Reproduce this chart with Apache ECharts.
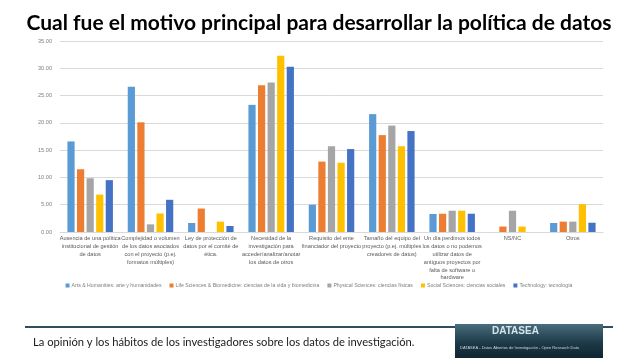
<!DOCTYPE html>
<html><head><meta charset="utf-8">
<script src="https://cdn.jsdelivr.net/npm/echarts@6/dist/echarts.min.js"></script>
<style>html,body{margin:0;padding:0;background:#fff}#c{width:638px;height:359px}</style>
</head><body><div id="c"></div>
<script>
const categories = [
  "Ausencia de una política\ninstitucional de gestión\nde datos",
  "Complejidad o volumen\nde los datos asociados\ncon el proyecto (p.ej.\nformatos múltiples)",
  "Ley de protección de\ndatos por el comité de\nética.",
  "Necesidad de la\ninvestigación para\nacceder/analizar/anotar\nlos datos de otros",
  "Requisito del ente\nfinanciador del proyecto",
  "Tamaño del equipo del\nproyecto (p.ej. múltiples\ncreadores de datos)",
  "Un día perdimos todos\nlos datos o no podemos\nutilizar datos de\nantiguos proyectos por\nfalta de software o\nhardware",
  "NS/NC",
  "Otros"
];
const seriesNames = [
  "Arts & Humanities: arte y humanidades",
  "Life Sciences & Biomedicine: ciencias de la vida y biomedicina",
  "Physical Sciences: ciencias físicas",
  "Social Sciences: ciencias sociales",
  "Technology: tecnología"
];
const arts    = [16.6, 26.6, 1.65, 23.3, 5.0, 21.6, 3.3, 0, 1.65];
const life    = [11.5, 20.1, 4.3, 26.9, 12.9, 17.75, 3.35, 1.0, 1.9];
const phys    = [9.85, 1.4, 0, 27.4, 15.7, 19.5, 3.9, 3.9, 1.9];
const social  = [6.85, 3.4, 1.9, 32.3, 12.7, 15.7, 3.9, 1.0, 5.1];
const tech    = [9.5, 5.9, 1.1, 30.3, 15.2, 18.5, 3.35, 0, 1.7];
const yTicks = {min: 0, max: 35, interval: 5};
const colors = ["#5B9BD5", "#ED7D31", "#A5A5A5", "#FFC000", "#4472C4"];
const title = "Cual fue el motivo principal para desarrollar la política de datos";
const footer = "La opinión y los hábitos de los investigadores sobre los datos de investigación.";

const all = [arts, life, phys, social, tech];
const chart = echarts.init(document.getElementById('c'), null, {renderer: 'canvas'});
chart.setOption({
  animation: false,
  backgroundColor: '#fff',
  color: colors,
  title: {
    text: title, left: 'center', top: 8,
    textStyle: {fontFamily: 'Lato', fontSize: 21, fontWeight: 'bold', color: '#000'}
  },
  grid: {left: 60, right: 35, top: 41, bottom: 127},
  legend: {
    bottom: 66, left: 'center', itemWidth: 4, itemHeight: 4, itemGap: 8, icon: 'rect',
    textStyle: {fontSize: 5.2, color: '#7f7f7f', fontFamily: 'Liberation Sans', padding: [0,0,0,-3]}
  },
  xAxis: {
    type: 'category', data: categories,
    axisLine: {lineStyle: {color: '#d9d9d9'}},
    axisTick: {show: false},
    axisLabel: {interval: 0, fontSize: 5.6, lineHeight: 7.8, color: '#595959', margin: 3, fontFamily: 'Liberation Sans'}
  },
  yAxis: {
    type: 'value', min: yTicks.min, max: yTicks.max, interval: yTicks.interval,
    axisLabel: {formatter: v => v.toFixed(2), fontSize: 5.6, color: '#7f7f7f', margin: 8, fontFamily: 'Liberation Sans'},
    splitLine: {lineStyle: {color: '#d9d9d9'}},
    axisLine: {show: false}, axisTick: {show: false}
  },
  series: all.map((d, i) => ({
    name: seriesNames[i], type: 'bar', data: d,
    barWidth: 7.2, barGap: '33%'
  })),
  graphic: [
    {type: 'rect', shape: {x: 25, y: 326, width: 588, height: 2}, style: {fill: '#2F4F5F'}},
    {type: 'text', left: 33, top: 337, style: {text: footer, fontSize: 11.2, fill: '#1a1a1a', fontFamily: 'Lato'}},
    {type: 'rect', shape: {x: 455, y: 324, width: 148, height: 34},
      style: {fill: new echarts.graphic.LinearGradient(0,0,0,1,[{offset:0,color:'#4a6d7c'},{offset:0.55,color:'#1d3a48'},{offset:1,color:'#0f2530'}])}},
    {type: 'text', left: 492, top: 326, style: {text: 'DATASEA', fontSize: 10, fontWeight: 'bold', fill: '#d6e6ef', fontFamily: 'Liberation Sans'}},
    {type: 'text', left: 460, top: 346, style: {text: 'DATASEA - Datos Abiertos de Investigación - Open Research Data', fontSize: 4, fill: '#c8d8e0', fontFamily: 'Liberation Sans'}}
  ]
});
</script></body></html>
